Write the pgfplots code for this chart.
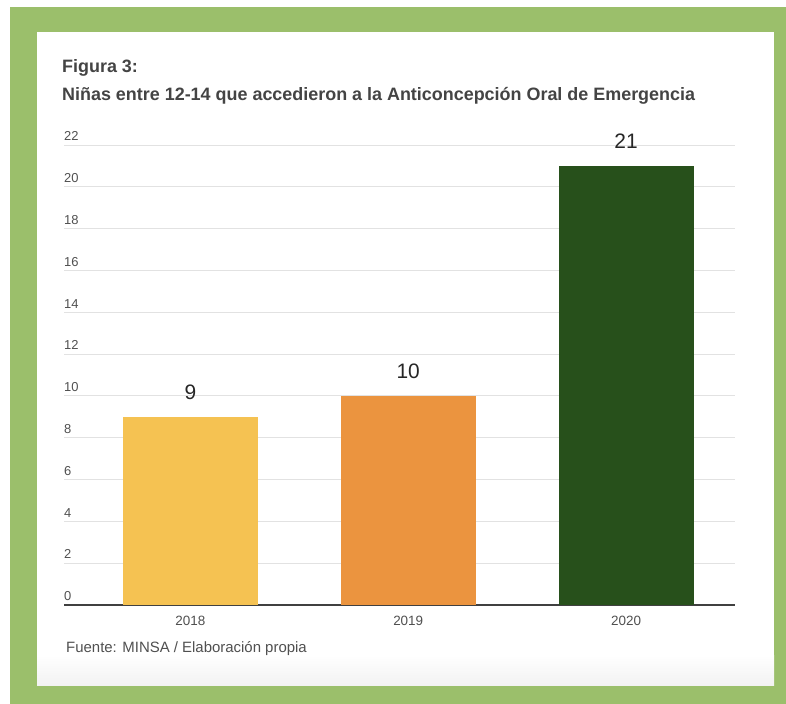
\documentclass[border=0pt]{standalone}
\usepackage{pgfplots}
\pgfplotsset{compat=1.18}
\usepackage{fontspec}
\setmainfont{Liberation Sans}
\definecolor{frame}{HTML}{9BBF6B}
\definecolor{titlegray}{HTML}{444444}
\definecolor{labgray}{HTML}{505050}
\definecolor{gridc}{HTML}{E2E2E2}
\definecolor{cA}{HTML}{F5C252}
\definecolor{cB}{HTML}{EB943F}
\definecolor{cC}{HTML}{27501B}
\begin{document}
\begin{tikzpicture}[x=1bp,y=1bp]
\fill[white] (0,0) rectangle (786,-704);
\fill[frame] (10,-7) rectangle (786,-704);
\fill[white] (37,-32) rectangle (774,-685);
\shade[top color=white,bottom color=black!5] (37,-655) rectangle (774,-685);
\node[anchor=base west, inner sep=0pt, font=\fontsize{18}{21}\selectfont\bfseries, text=titlegray] at (62,-72.7) {Figura 3:};
\node[anchor=base west, inner sep=0pt, font=\fontsize{18}{21}\selectfont\bfseries, text=titlegray] at (62,-101) {Niñas entre 12-14 que accedieron a la Anticoncepción Oral de Emergencia};
\node[anchor=base west, inner sep=0pt, font=\fontsize{15}{17}\selectfont, text=labgray] at (66,-652.5) {Fuente: MINSA / Elaboración propia};
\begin{axis}[
  at={(64bp,-605bp)}, anchor=south west,
  scale only axis, width=671bp, height=460bp,
  xmin=-0.58, xmax=2.5, ymin=0, ymax=22,
  ytick={0,2,...,22}, xtick={0,1,2}, xticklabels={2018,2019,2020},
  axis x line*=bottom, axis y line*=left,
  y axis line style={draw=none},
  x axis line style={draw=black!75, line width=1.8bp, -},
  major tick length=0pt,
  ymajorgrids, grid style={gridc, line width=1bp},
  /pgf/number format/assume math mode=true,
  yticklabel style={anchor=south west, inner sep=0pt, xshift=0bp, yshift=4bp, font=\fontsize{13}{15}\selectfont, text=labgray},
  xticklabel style={anchor=base, inner sep=0pt, yshift=-20bp, font=\fontsize{13.5}{15}\selectfont, text=labgray},
  nodes near coords,
  every node near coord/.style={anchor=south, inner sep=0pt, yshift=17bp, font=\fontsize{21}{24}\selectfont, text=black!85},
]
\addplot[ybar, bar width=135bp, bar shift=0pt, fill=cA, draw=none] coordinates {(0,9)};
\addplot[ybar, bar width=135bp, bar shift=0pt, fill=cB, draw=none] coordinates {(1,10)};
\addplot[ybar, bar width=135bp, bar shift=0pt, fill=cC, draw=none] coordinates {(2,21)};
\end{axis}
\end{tikzpicture}
\end{document}
